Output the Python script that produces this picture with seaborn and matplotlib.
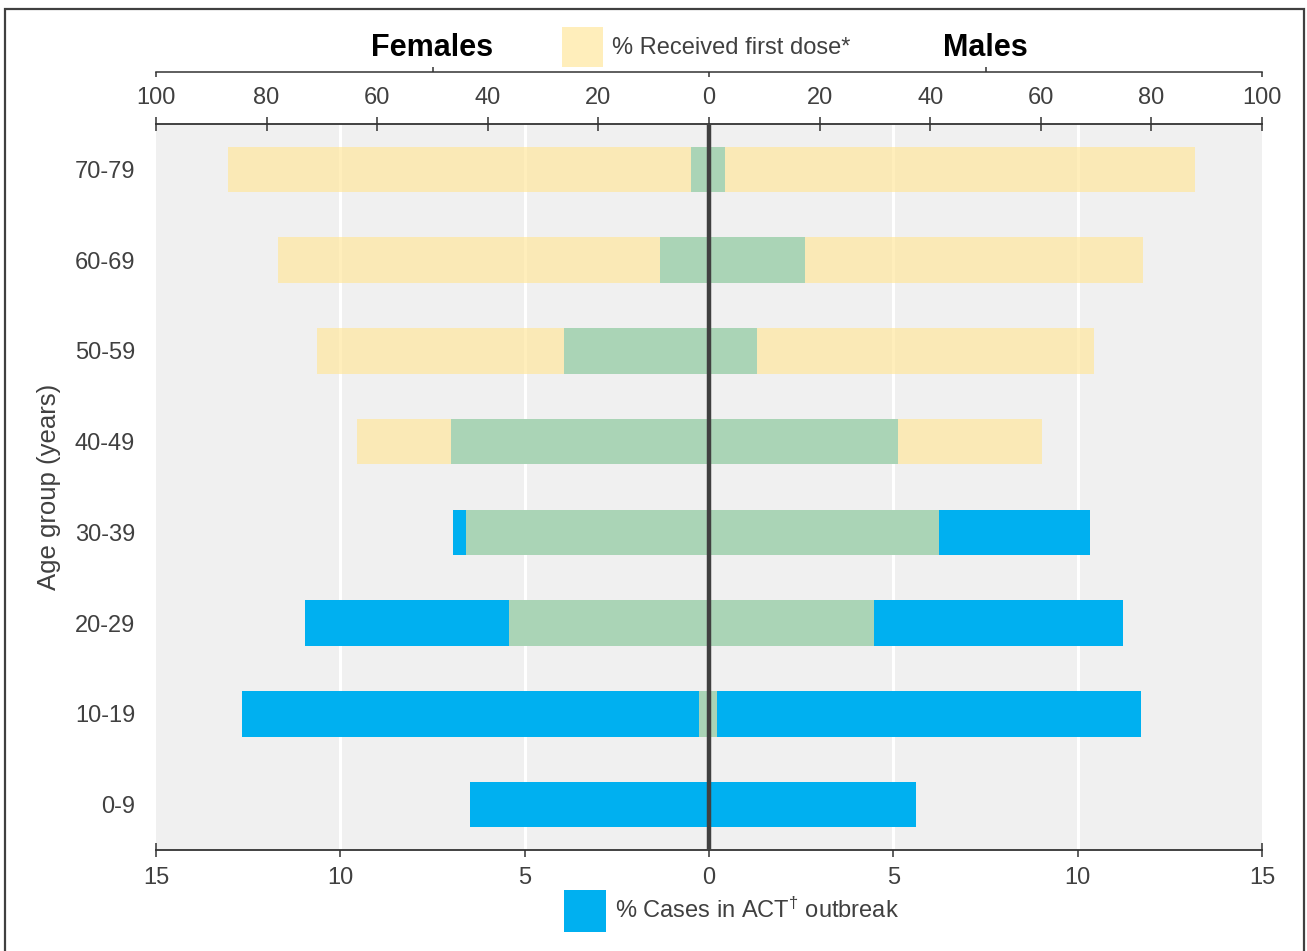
import matplotlib
matplotlib.use("Agg")
import matplotlib.pyplot as plt
from matplotlib.patches import Patch, Rectangle
from matplotlib.ticker import FixedLocator
import matplotlib.transforms as mtransforms
import seaborn as sns
import numpy as np
import pandas as pd

# ---------------- data ----------------
age_groups = ['70-79', '60-69', '50-59', '40-49', '30-39', '20-29', '10-19', '0-9']
cases_female = [0.48, 1.33, 3.93, 7.0, 6.94, 10.95, 12.66, 6.48]     # % of cases
cases_male = [0.43, 2.6, 1.30, 5.14, 10.33, 11.24, 11.72, 5.61]
vacc_female = [87.0, 77.9, 70.9, 63.6, 43.9, 36.2, 1.8, 0.0]          # % received first dose
vacc_male = [87.9, 78.4, 69.6, 60.3, 41.6, 29.8, 1.45, 0.0]
case_ticks = [-15, -10, -5, 0, 5, 10, 15]
case_ticklabels = ['15', '10', '5', '0', '5', '10', '15']
vacc_ticks = [-100, -80, -60, -40, -20, 0, 20, 40, 60, 80, 100]
vacc_ticklabels = ['100', '80', '60', '40', '20', '0', '20', '40', '60', '80', '100']

cases_df = pd.DataFrame({'age': age_groups,
                         'female': -np.array(cases_female),
                         'male': np.array(cases_male)})
vacc_df = pd.DataFrame({'age': age_groups,
                        'female': -np.array(vacc_female),
                        'male': np.array(vacc_male)})

# ---------------- style ----------------
sns.set_theme(style='white')
plt.rcParams['font.family'] = ['Liberation Sans', 'DejaVu Sans']
plt.rcParams['mathtext.fontset'] = 'custom'
plt.rcParams['mathtext.rm'] = 'Liberation Sans'
plt.rcParams['mathtext.it'] = 'Liberation Sans:italic'
plt.rcParams['mathtext.bf'] = 'Liberation Sans:bold'

BLUE = '#00B0F0'
YELLOW = '#FFE69A'
YALPHA = 0.67
TXT = '#404040'
FS = 17

W, H = 1307, 951
fig = plt.figure(figsize=(W / 100, H / 100), dpi=100)
fig.patch.set_facecolor('white')

l, r, t, b = 156, 1262, 124, 850
ax = fig.add_axes([l / W, 1 - b / H, (r - l) / W, (b - t) / H])
ax.set_facecolor('#F0F0F0')

# case bars (bottom scale)
sns.barplot(data=cases_df, x='female', y='age', order=age_groups, ax=ax,
            color=BLUE, saturation=1, width=0.5, linewidth=0, orient='h', zorder=2)
sns.barplot(data=cases_df, x='male', y='age', order=age_groups, ax=ax,
            color=BLUE, saturation=1, width=0.5, linewidth=0, orient='h', zorder=2)
ax.set_xlim(-15, 15)
ax.set_ylim(7.5, -0.5)
ax.xaxis.set_major_locator(FixedLocator(case_ticks))
ax.set_xticklabels(case_ticklabels)
for v in case_ticks:
    if v != 0 and abs(v) != 15:
        ax.axvline(v, color='white', lw=2.2, zorder=1)

# vaccination bars (top scale)
ax2 = ax.twiny()
sns.barplot(data=vacc_df, x='female', y='age', order=age_groups, ax=ax2,
            color=YELLOW, alpha=YALPHA, saturation=1, width=0.5, linewidth=0, orient='h')
sns.barplot(data=vacc_df, x='male', y='age', order=age_groups, ax=ax2,
            color=YELLOW, alpha=YALPHA, saturation=1, width=0.5, linewidth=0, orient='h')
ax2.set_xlim(-100, 100)
ax2.set_ylim(7.5, -0.5)
ax2.xaxis.set_major_locator(FixedLocator(vacc_ticks))
ax2.set_xticklabels(vacc_ticklabels)
ax2.axvline(0, color='#404040', lw=3.2, zorder=10)
ax2.set_xlabel('')
ax2.set_ylabel('')

# axis cosmetics
for a in (ax, ax2):
    for s in ('left', 'right'):
        a.spines[s].set_visible(False)
ax.spines['top'].set_visible(False)
ax2.spines['bottom'].set_visible(False)
ax.spines['bottom'].set_color('#333333')
ax.spines['bottom'].set_linewidth(1.3)
ax2.spines['top'].set_color('#333333')
ax2.spines['top'].set_linewidth(1.3)

ax.tick_params(axis='x', direction='inout', length=10, width=1.1, color='#333333',
               labelsize=FS, labelcolor=TXT, pad=7, bottom=True)
ax2.tick_params(axis='x', direction='inout', length=10, width=1.1, color='#333333',
                labelsize=FS, labelcolor=TXT, pad=6, top=True)
ax.tick_params(axis='y', length=0, labelsize=FS, labelcolor=TXT, pad=15)
ax.set_xlabel('')
ax.set_ylabel('Age group (years)', fontsize=18.5, color=TXT, labelpad=10)

# bracket line above the top axis
ax3 = ax.twiny()
ax3.set_xlim(-100, 100)
for s in ('left', 'right', 'bottom'):
    ax3.spines[s].set_visible(False)
ax3.spines['top'].set_position(('outward', 37.5))
ax3.spines['top'].set_color('#333333')
ax3.spines['top'].set_linewidth(1.1)
ax3.xaxis.set_major_locator(FixedLocator([-100, 0, 100]))
ax3.xaxis.set_minor_locator(FixedLocator([-50, 50]))
ax3.tick_params(axis='x', which='major', direction='in', length=3.5, width=1.1,
                color='#333333', labeltop=False, labelbottom=False, top=True, bottom=False)
ax3.tick_params(axis='x', which='minor', direction='out', length=3.5, width=1.1,
                color='#333333', labeltop=False, labelbottom=False, top=True, bottom=False)

trans = mtransforms.blended_transform_factory(ax3.transData, fig.transFigure)
ax3.text(-50, 1 - 48 / H, 'Females', transform=trans, ha='center', va='center',
         fontsize=22, fontweight='bold', color='black')
ax3.text(50, 1 - 48 / H, 'Males', transform=trans, ha='center', va='center',
         fontsize=22, fontweight='bold', color='black')

# legends
leg1 = fig.legend(handles=[Patch(facecolor=YELLOW, alpha=YALPHA, edgecolor='none',
                                 label='% Received first dose*')],
                  loc='center left', bbox_to_anchor=(562 / W, 1 - 47 / H),
                  frameon=False, fontsize=FS, handlelength=1.74, handleheight=2.23,
                  handletextpad=0.38, borderpad=0, borderaxespad=0, labelcolor=TXT)
leg2 = fig.legend(handles=[Patch(facecolor=BLUE, edgecolor='none',
                                 label=r'% Cases in ACT$^{\dagger}$ outbreak')],
                  loc='center left', bbox_to_anchor=(564 / W, 1 - 911 / H),
                  frameon=False, fontsize=FS, handlelength=1.78, handleheight=2.39,
                  handletextpad=0.38, borderpad=0, borderaxespad=0, labelcolor=TXT)

# figure border
fig.add_artist(Rectangle((5 / W, -0.01), (1304 - 5) / W, 1 - 9 / H + 0.01,
                         transform=fig.transFigure, fill=False,
                         edgecolor='#404040', linewidth=1.6))

fig.savefig('out.png', dpi=100)
